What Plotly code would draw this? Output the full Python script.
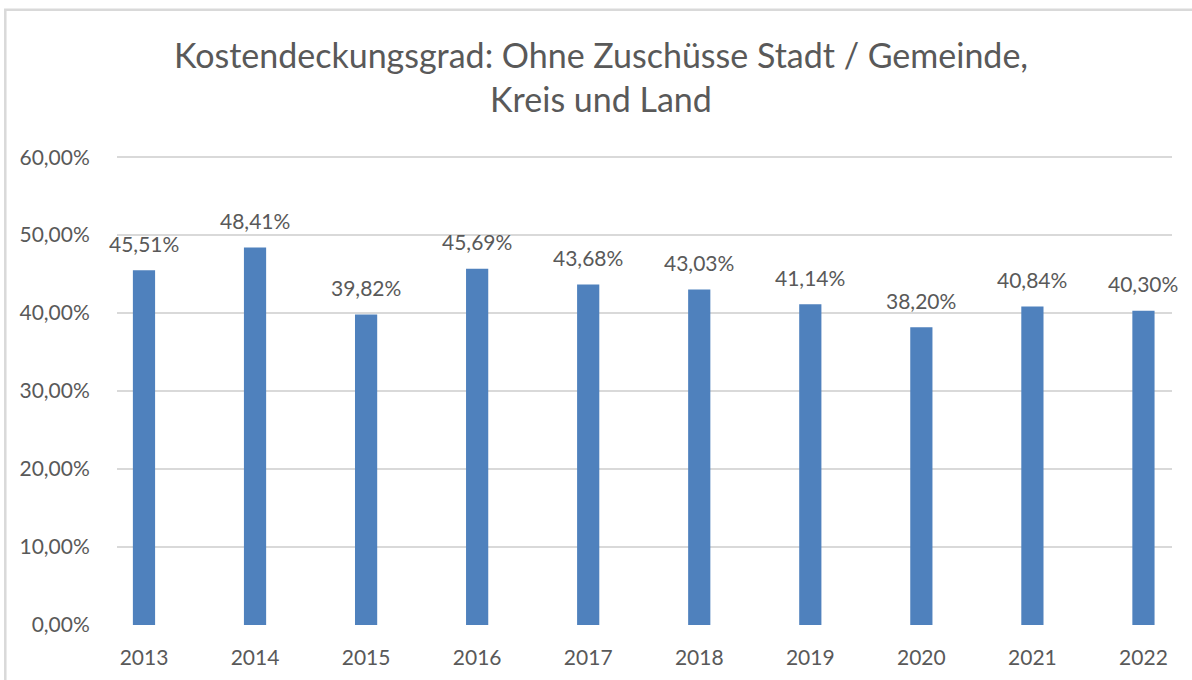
import plotly.graph_objects as go

years = ["2013", "2014", "2015", "2016", "2017", "2018", "2019", "2020", "2021", "2022"]
values = [45.51, 48.41, 39.82, 45.69, 43.68, 43.03, 41.14, 38.20, 40.84, 40.30]
y_ticks = [0, 10, 20, 30, 40, 50, 60]
title_text = "Kostendeckungsgrad: Ohne Zuschüsse Stadt / Gemeinde,<br>Kreis und Land"


def de_pct(v):
    return f"{v:.2f}".replace(".", ",") + "%"


TEXT = "#595959"
GRID = "#D9D9D9"
BAR = "#4F81BD"
FONT = "Lato, Open Sans, sans-serif"

fig = go.Figure()
fig.add_trace(go.Bar(
    x=years, y=values, width=0.2, marker=dict(color=BAR, line=dict(width=0)),
    hoverinfo="skip",
))

for i, v in enumerate(values):
    fig.add_annotation(
        x=i, y=v, xref="x", yref="y", text=de_pct(v),
        showarrow=False, yanchor="middle", yshift=27,
        font=dict(family=FONT, size=21, color=TEXT),
    )

W, H = 1192, 680
L, R, T, B = 117, 20, 157, 55
pw, ph = W - L - R, H - T - B


def px_x(p):
    return (p - L) / pw


def px_y(p):
    return (H - B - p) / ph


fig.add_shape(type="rect", xref="paper", yref="paper",
              x0=px_x(5.3), x1=px_x(1250), y0=px_y(760), y1=px_y(11),
              line=dict(color=GRID, width=2.5), fillcolor="rgba(0,0,0,0)", layer="below")

fig.update_layout(
    width=W, height=H,
    margin=dict(l=L, r=R, t=T - 1, b=B, pad=0),
    paper_bgcolor="white", plot_bgcolor="white",
    showlegend=False,
    title=dict(text=title_text, x=601 / W, xanchor="center", xref="container",
               y=1 - 68 / H, yanchor="top", yref="container",
               font=dict(family=FONT, size=34, color=TEXT)),
    xaxis=dict(type="category", range=[-0.243, 9.257], showgrid=False, zeroline=False,
               showline=False, ticks="outside", ticklen=14, tickcolor="rgba(0,0,0,0)",
               tickfont=dict(family=FONT, size=21, color=TEXT)),
    yaxis=dict(range=[0, 60.15], tickvals=y_ticks, ticktext=[de_pct(t) for t in y_ticks],
               showgrid=True, gridcolor=GRID, gridwidth=1.5, zeroline=False, showline=False,
               ticks="outside", ticklen=22, tickcolor="rgba(0,0,0,0)",
               tickfont=dict(family=FONT, size=21, color=TEXT)),
)

fig.write_html("out.html")
